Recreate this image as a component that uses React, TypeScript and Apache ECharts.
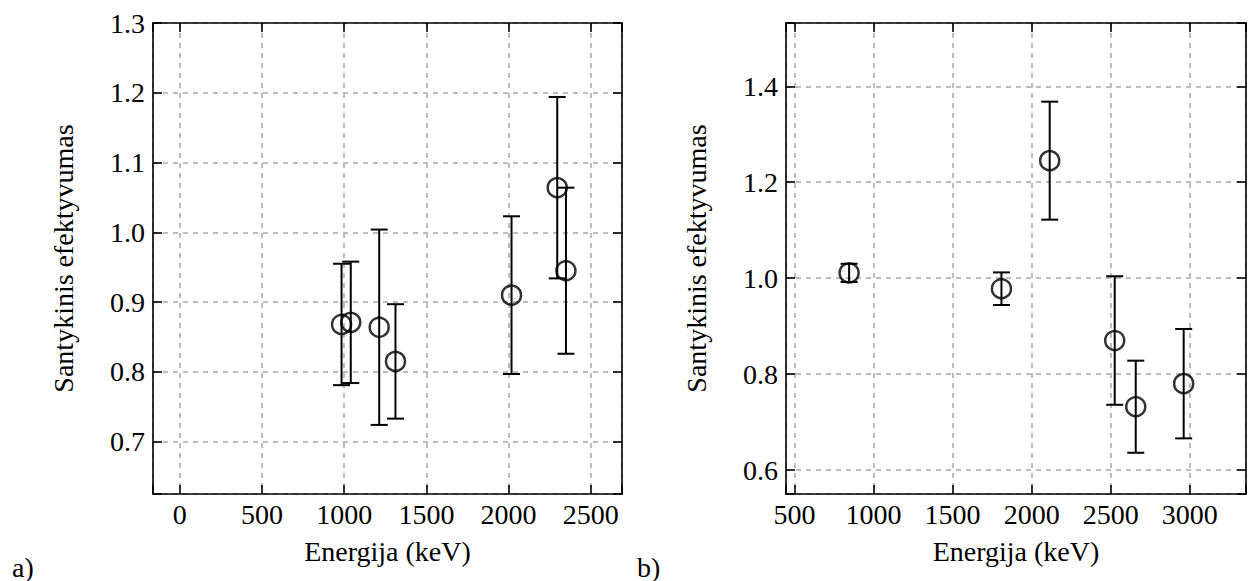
import React, { useEffect, useRef } from "react";
import * as echarts from "echarts";

// Panel a)
const energyA = [984, 1040, 1213, 1312, 2018, 2296, 2349];
const effA = [0.868, 0.871, 0.864, 0.815, 0.91, 1.064, 0.945];
const errA = [0.087, 0.087, 0.14, 0.082, 0.113, 0.13, 0.119];

// Panel b)
const energyB = [846, 1809, 2114, 2525, 2658, 2961];
const effB = [1.011, 0.978, 1.245, 0.87, 0.732, 0.78];
const errB = [0.019, 0.034, 0.123, 0.134, 0.096, 0.114];

const xLabel = "Energija (keV)";
const yLabel = "Santykinis efektyvumas";
const panelLabels = ["a)", "b)"];

const FONT = "Liberation Serif";
const FS = 28;

function multipleOf(v: number, step: number) {
  const r = v / step;
  return Math.abs(r - Math.round(r)) < 1e-6;
}

export default function App() {
  const ref = useRef<HTMLDivElement>(null);
  useEffect(() => {
    if (!ref.current) return;
    const chart = echarts.init(ref.current, null, { renderer: "svg" });

    const gridTop = 23;
    const gridH = 471;
    const grids = [
      { left: 153, top: gridTop, width: 469, height: gridH, show: false },
      { left: 786, top: gridTop, width: 467, height: gridH, show: false },
    ];

    const axisLine = { show: true, onZero: false, lineStyle: { color: "#000", width: 1.6 } };
    const tick = { show: true, inside: true, length: 9, lineStyle: { color: "#000", width: 1.6 } };
    const split = { show: true, lineStyle: { color: "#bdbdbd", width: 2, type: [5, 5] } };

    const xRanges = [
      { min: -163, max: 2690, step: 500 },
      { min: 447, max: 3355, step: 500 },
    ];
    const yRanges = [
      { min: 0.625, max: 1.3, step: 0.1 },
      { min: 0.55, max: 1.532, step: 0.2 },
    ];

    const xAxis: any[] = [];
    const yAxis: any[] = [];
    for (let g = 0; g < 2; g++) {
      const xr = xRanges[g];
      const yr = yRanges[g];
      xAxis.push({
        type: "value",
        gridIndex: g,
        position: "bottom",
        min: xr.min,
        max: xr.max,
        minInterval: xr.step,
        maxInterval: xr.step,
        axisLine,
        axisTick: tick,
        splitLine: split,
        axisLabel: {
          show: true,
          margin: 6,
          color: "#000",
          fontFamily: FONT,
          fontSize: FS,
          showMinLabel: true,
          showMaxLabel: true,
          formatter: (v: number) => (multipleOf(v, xr.step) ? String(Math.round(v)) : ""),
        },
        name: xLabel,
        nameLocation: "middle",
        nameGap: 43,
        nameTextStyle: { color: "#000", fontFamily: FONT, fontSize: FS },
      });
      xAxis.push({
        type: "value",
        gridIndex: g,
        position: "top",
        min: xr.min,
        max: xr.max,
        minInterval: xr.step,
        maxInterval: xr.step,
        axisLine,
        axisTick: tick,
        splitLine: { show: false },
        axisLabel: { show: false },
      });
      yAxis.push({
        type: "value",
        gridIndex: g,
        position: "left",
        min: yr.min,
        max: yr.max,
        minInterval: yr.step,
        maxInterval: yr.step,
        axisLine,
        axisTick: tick,
        splitLine: split,
        axisLabel: {
          show: true,
          margin: 8,
          color: "#000",
          fontFamily: FONT,
          fontSize: FS,
          showMinLabel: true,
          showMaxLabel: true,
          formatter: (v: number) => (multipleOf(v, yr.step) ? v.toFixed(1) : ""),
        },
        name: yLabel,
        nameLocation: "middle",
        nameRotate: 90,
        nameGap: 76,
        nameTextStyle: { color: "#000", fontFamily: FONT, fontSize: FS },
      });
      yAxis.push({
        type: "value",
        gridIndex: g,
        position: "right",
        min: yr.min,
        max: yr.max,
        minInterval: yr.step,
        maxInterval: yr.step,
        axisLine,
        axisTick: tick,
        splitLine: { show: false },
        axisLabel: { show: false },
      });
    }

    const errorRender = (params: any, api: any) => {
      const x = api.value(0);
      const y = api.value(1);
      const e = api.value(2);
      const top = api.coord([x, y + e]);
      const bot = api.coord([x, y - e]);
      const hw = 8.5;
      const style = { stroke: "#000", lineWidth: 2, fill: "none" };
      return {
        type: "group",
        children: [
          { type: "line", shape: { x1: top[0], y1: top[1], x2: bot[0], y2: bot[1] }, style },
          { type: "line", shape: { x1: top[0] - hw, y1: top[1], x2: top[0] + hw, y2: top[1] }, style },
          { type: "line", shape: { x1: bot[0] - hw, y1: bot[1], x2: bot[0] + hw, y2: bot[1] }, style },
        ],
      };
    };

    const dataA = energyA.map((x, i) => [x, effA[i], errA[i]]);
    const dataB = energyB.map((x, i) => [x, effB[i], errB[i]]);

    const scatterStyle = { color: "rgba(0,0,0,0)", borderColor: "#000", borderWidth: 2.5 };

    const series: any[] = [
      {
        type: "custom",
        xAxisIndex: 0,
        yAxisIndex: 0,
        renderItem: errorRender,
        data: dataA,
        encode: { x: 0, y: 1 },
        z: 3,
      },
      {
        type: "scatter",
        xAxisIndex: 0,
        yAxisIndex: 0,
        data: dataA.map((d) => [d[0], d[1]]),
        symbol: "circle",
        symbolSize: 19,
        itemStyle: scatterStyle,
        z: 4,
      },
      {
        type: "custom",
        xAxisIndex: 2,
        yAxisIndex: 2,
        renderItem: errorRender,
        data: dataB,
        encode: { x: 0, y: 1 },
        z: 3,
      },
      {
        type: "scatter",
        xAxisIndex: 2,
        yAxisIndex: 2,
        data: dataB.map((d) => [d[0], d[1]]),
        symbol: "circle",
        symbolSize: 19,
        itemStyle: scatterStyle,
        z: 4,
      },
    ];

    chart.setOption({
      animation: false,
      backgroundColor: "#fff",
      grid: grids,
      xAxis,
      yAxis,
      series,
      graphic: [
        {
          type: "text",
          left: 12,
          top: 553,
          style: { text: panelLabels[0], fontFamily: FONT, fontSize: FS, fill: "#000" },
        },
        {
          type: "text",
          left: 637,
          top: 553,
          style: { text: panelLabels[1], fontFamily: FONT, fontSize: FS, fill: "#000" },
        },
      ],
    });

    return () => chart.dispose();
  }, []);

  return (
    <div
      ref={ref}
      style={{ position: "fixed", left: 0, top: 0, width: 1249, height: 581, background: "#fff" }}
    />
  );
}
